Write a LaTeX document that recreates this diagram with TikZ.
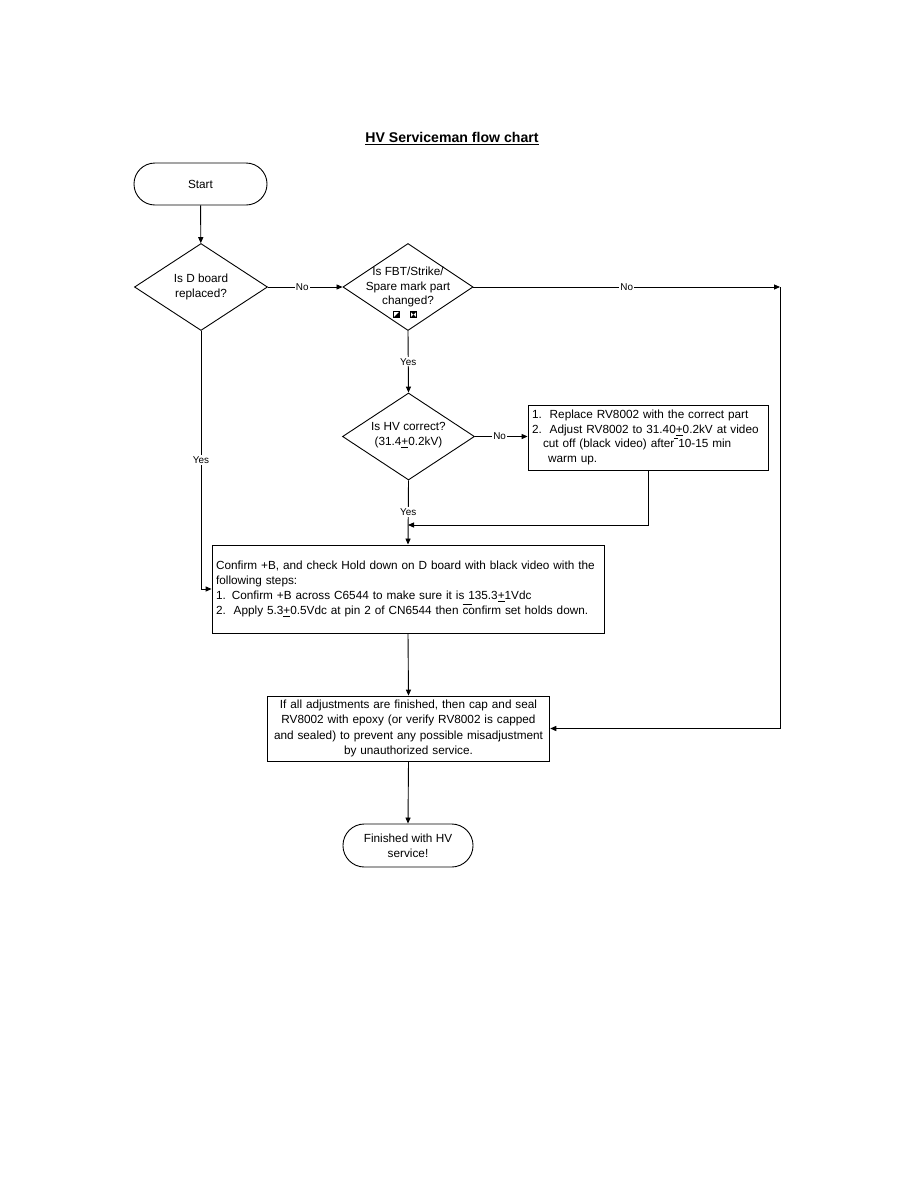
\documentclass[tikz,border=0pt]{standalone}
\usepackage{fontspec}
\setmainfont{Liberation Sans}
\usetikzlibrary{shapes.geometric,arrows.meta,calc}
\newcommand\pmu{\underline{+}}
\newcommand\ovl[1]{\rlap{\rule[6.2pt]{#1}{0.45pt}}}
\begin{document}
\begin{tikzpicture}[x=0.66667pt,y=-0.66667pt,
  every node/.style={font=\fontsize{7.85}{9.9}\selectfont},
  line/.style={line width=0.6pt,draw=black},
  arr/.style={line, -{Triangle[length=4pt,width=3.4pt]}},
  term/.style={draw, line width=0.6pt, rounded corners=14pt, minimum width=88.7pt, minimum height=28pt, align=center, inner sep=0pt},
  dia/.style={draw, diamond, line width=0.6pt, inner sep=0pt},
  dtext/.style={align=center, inner sep=0pt},
  box/.style={draw, line width=0.6pt, inner xsep=2.7pt, inner ysep=0pt, align=left},
  lbl/.style={fill=white, inner sep=0.8pt, font=\fontsize{6.6}{7}\selectfont}]
\useasboundingbox (0,0) rectangle (918,1188);

% title
\node[font=\fontsize{9.4}{11}\selectfont\bfseries] (title) at (452,139) {\underline{HV Serviceman flow chart}};

% nodes
\node[term] (start) at (200.5,184) {Start};
\node[dia, minimum width=88.7pt, minimum height=58pt] (d1) at (201,287) {};
\node[dtext] (d1t) at (d1) {Is D board\\replaced?};
\node[dia, minimum width=86.7pt, minimum height=58pt] (d2) at (408,287) {};
\node[dtext] (d2t) at (408,287) {Is FBT/Strike/\\Spare mark part\\changed?};
\node[dia, minimum width=88pt, minimum height=58pt] (d3) at (408.5,436.5) {};
\node[dtext] (d3t) at (408.5,435.5) {Is HV correct?\\(31.4\pmu0.2kV)};

\node[box, text width=154.6pt, minimum height=43.3pt] (boxA) at (648,437.5)
  {1.\ \ Replace RV8002 with the correct part\\
   2.\ \ Adjust RV8002 to 31.40\pmu0.2kV at video\\
   \hspace*{7.3pt}cut off (black video) after \llap{\rule[6.2pt]{3pt}{0.45pt}}10-15 min\\
   \hspace*{10.7pt}warm up.};

\node[box, text width=255.9pt, minimum height=58.7pt] (boxB) at (408,589)
  {\mbox{Confirm +B, and check Hold down on D board with black video with the}\\
   following steps:\\
   1. Confirm +B across C6544 to make sure it is 135.3\pmu1Vdc\\
   2.\ \ Apply 5.3\pmu0.5Vdc at pin 2 of CN6544 then \ovl{6pt}confirm set holds down.};

\node[box, align=center, text width=183pt, minimum height=43.3pt, font=\fontsize{7.85}{10.2}\selectfont] (boxC) at (408.5,728.5)
  {If all adjustments are finished, then cap and seal\\
   RV8002 with epoxy (or verify RV8002 is capped\\
   and sealed) to prevent any possible misadjustment\\
   by unauthorized service.};

\node[term, minimum width=86.7pt, minimum height=28.7pt, rounded corners=14.3pt] (endn) at (408,845.5) {Finished with HV\\service!};

\coordinate (cR1) at (780,287);
\coordinate (cR2) at (780,728.5);
\coordinate (cJ) at (408,525);

% icons
\draw[line width=0.4pt] (393.5,311.5) rectangle (399.5,317.5);
\fill (393.5,317.5) -- (399.5,311.5) -- (399.5,317.5) -- cycle;
\draw[line width=0.4pt] (410.5,311.5) rectangle (416.5,317.5);
\fill (410.5,311.5) -- (416.5,311.5) -- (413.5,314.5) -- cycle;
\fill (410.5,317.5) -- (416.5,317.5) -- (413.5,314.5) -- cycle;

% connectors
\draw[arr] (start) -- (d1);
\draw[arr] (d1.east) -- node[lbl, pos=0.46] {No} (d2.west);
\draw[arr] (d2.east) -- node[lbl, pos=0.5] {No} (cR1);
\draw[arr] (cR1) -- (cR2) -- (boxC.east);
\draw[arr] (d2.south) -- node[lbl, pos=0.5] {Yes} (d3.north);
\draw[arr] (d3.east) -- node[lbl, pos=0.47] {No} (d3.east -| boxA.west);
\draw[arr] (boxA.south) -- (boxA.south |- cJ) -- (cJ);
\draw[arr] (d3.south) -- node[lbl, pos=0.49] {Yes} (boxB.north);
\draw[arr] (d1.south) -- node[lbl, pos=0.5] {Yes} (d1.south |- boxB.west) -- (boxB.west);
\draw[arr] (boxB.south) -- (boxC.north);
\draw[arr] (boxC.south) -- (endn.north);
\end{tikzpicture}
\end{document}
